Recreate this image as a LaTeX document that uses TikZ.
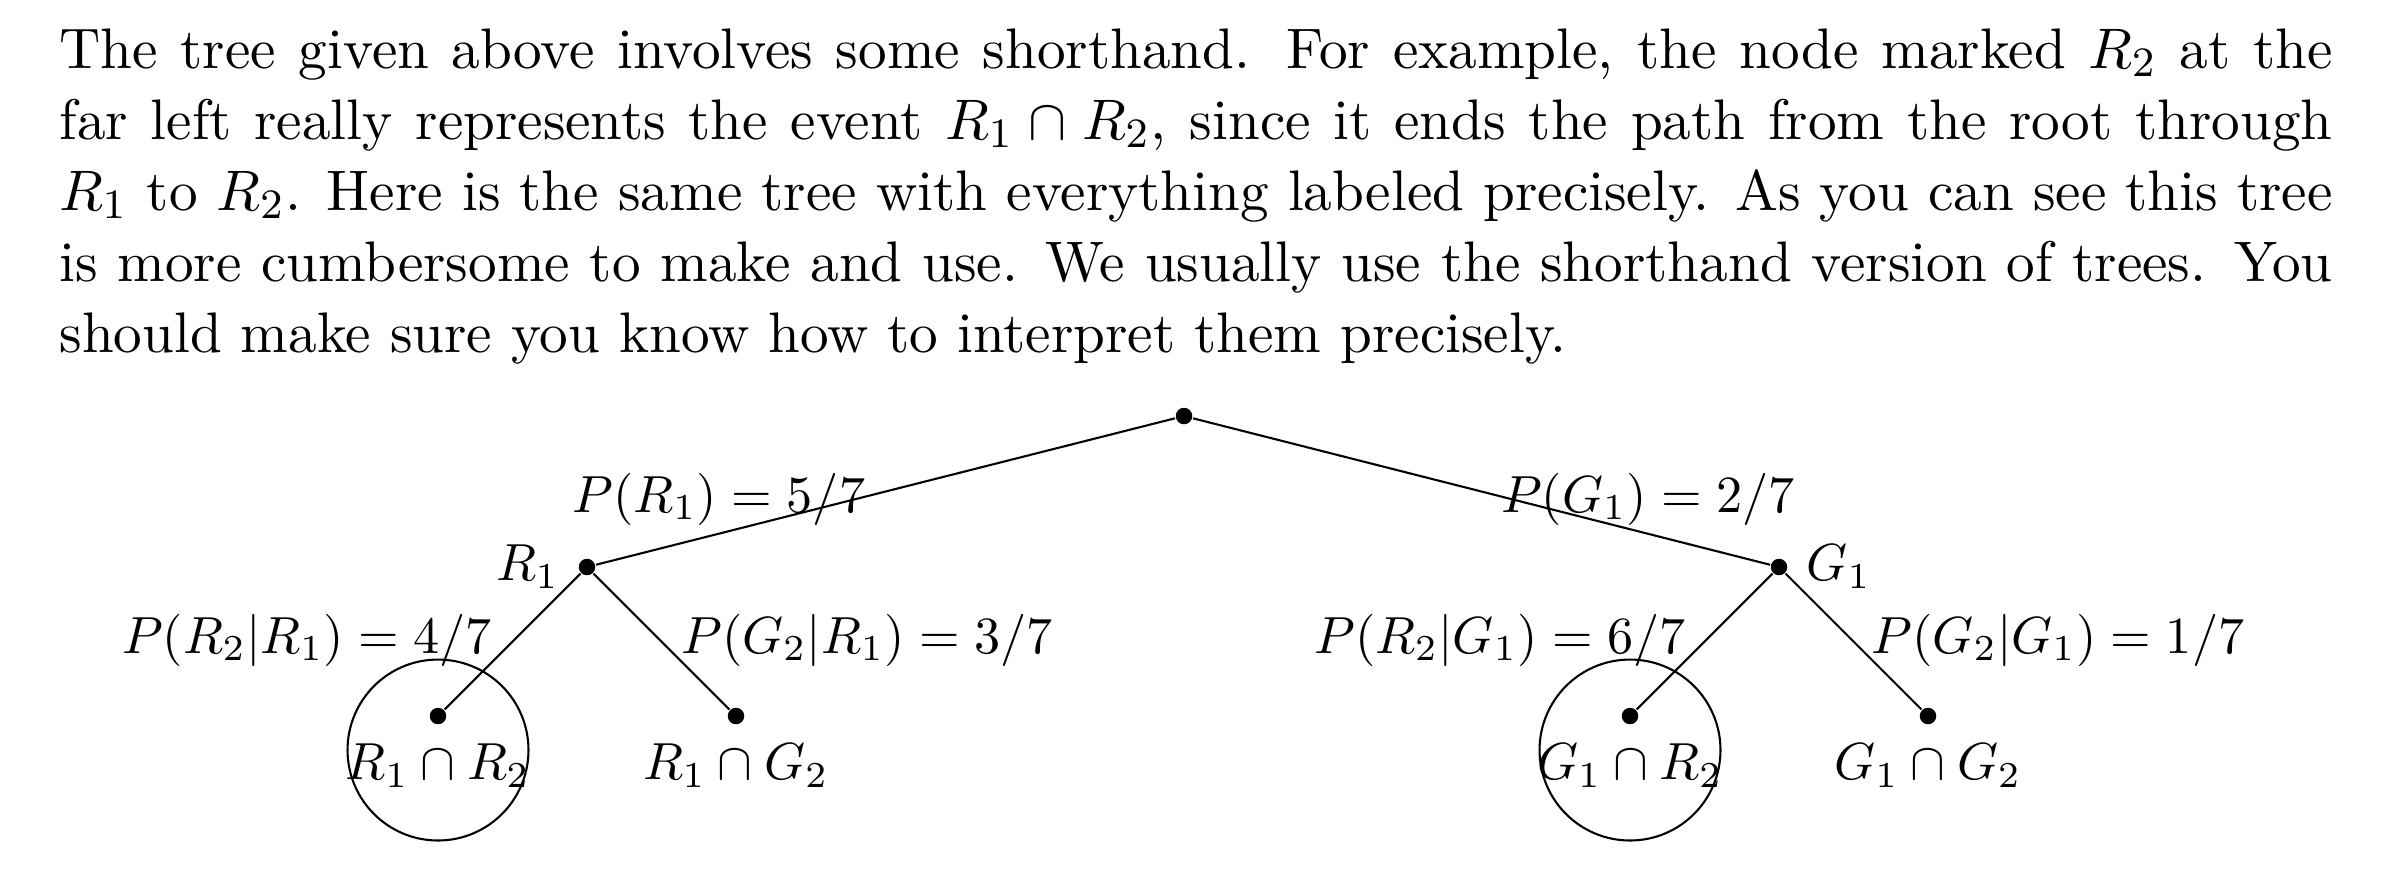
\documentclass[tikz,border=0pt]{standalone}
\begin{document}
\begin{tikzpicture}[x=0.19155pt,y=-0.19155pt,
  every node/.style={font=\fontsize{10}{12}\selectfont},
  bodytext/.style={anchor=base west,inner sep=0pt,font=\fontsize{10.95}{13.6}\selectfont},
  dot/.style={circle,fill,inner sep=0pt,minimum size=3.16pt},
  lbl/.style={anchor=base,inner sep=0pt}]
\useasboundingbox (0,0) rectangle (2404,876);
\node[bodytext] (para) at (58.5,68) {\parbox[t]{435.4pt}{The tree given above involves some shorthand. For example, the node marked $R_2$ at the\linebreak far left really represents the event $R_1 \cap R_2$, since it ends the path from the root through\linebreak $R_1$ to $R_2$. Here is the same tree with everything labeled precisely. As you can see this tree\linebreak is more cumbersome to make and use. We usually use the shorthand version of trees. You\linebreak should make sure you know how to interpret them precisely.}};
% tree nodes
\node[dot] (root) at (1184,416) {};
\node[dot,label=left:$R_1$] (r1) at (587,567) {};
\node[dot,label=right:$G_1$] (g1) at (1779,567) {};
\node[dot,label=below:$R_1\cap R_2$] (rr) at (438,716) {};
\node[dot,label=below:$R_1\cap G_2$] (rg) at (736,716) {};
\node[dot,label=below:$G_1\cap R_2$] (gr) at (1630,716) {};
\node[dot,label=below:$G_1\cap G_2$] (gg) at (1928,716) {};
% connectors
\draw (root) -- (r1);
\draw (root) -- (g1);
\draw (r1) -- (rr);
\draw (r1) -- (rg);
\draw (g1) -- (gr);
\draw (g1) -- (gg);
% edge labels
\node[lbl] (l1) at (719,512) {$P(R_1)=5/7$};
\node[lbl] (l2) at (1648,512) {$P(G_1)=2/7$};
\node[lbl] (l3) at (307,653) {$P(R_2|R_1)=4/7$};
\node[lbl] (l4) at (867,653) {$P(G_2|R_1)=3/7$};
\node[lbl] (l5) at (1500,653) {$P(R_2|G_1)=6/7$};
\node[lbl] (l6) at (2058,653) {$P(G_2|G_1)=1/7$};
% circles
\draw (rr) ++(0,34) circle[radius=17.33pt];
\draw (gr) ++(0,34) circle[radius=17.33pt];
\end{tikzpicture}
\end{document}
